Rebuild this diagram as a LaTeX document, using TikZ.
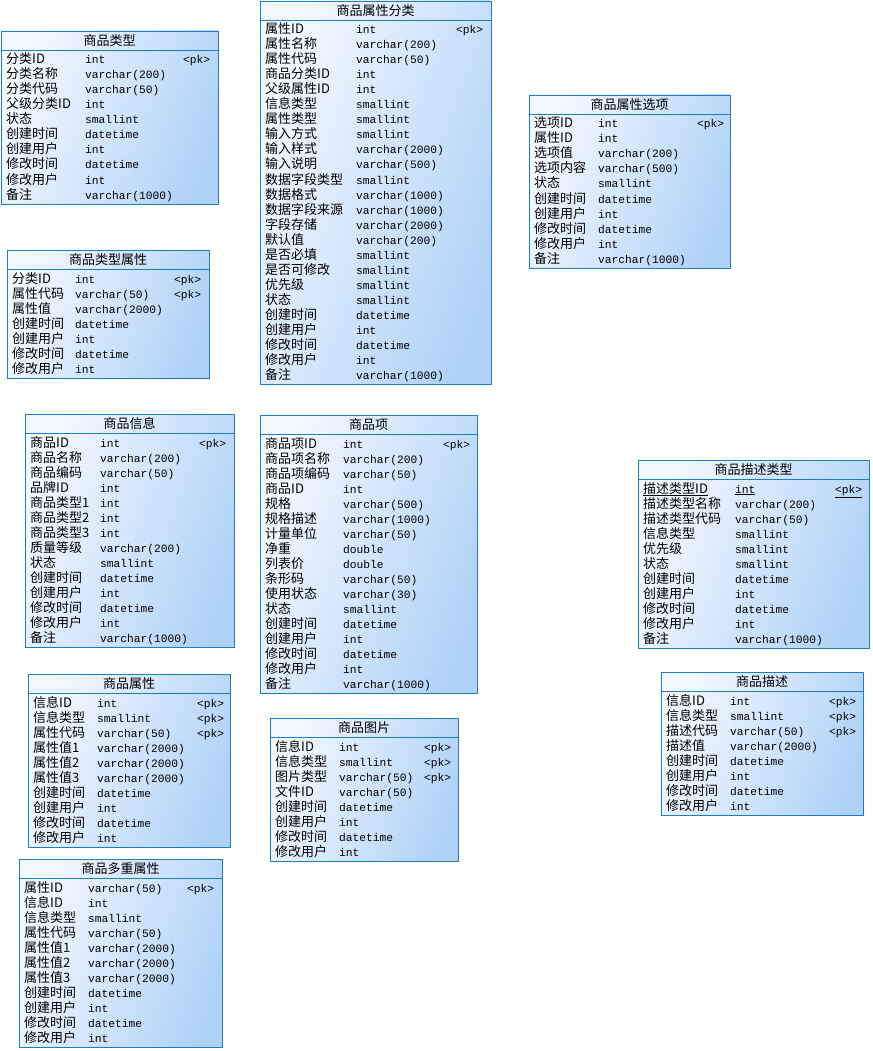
\documentclass[tikz,border=0pt]{standalone}
\usepackage{fontspec}
\setmainfont{Noto Sans CJK SC}
\setmonofont{Liberation Mono}
\usepackage{tikz}

\definecolor{tblborder}{RGB}{30,125,195}
\definecolor{tbllight}{RGB}{244,249,255}
\definecolor{tbldark}{RGB}{176,210,247}

\begin{document}
\begin{tikzpicture}[
    x=1pt, y=-1pt,
    tbl/.style={rectangle, draw=tblborder, line width=0.9pt, left color=tbllight, right color=tbldark, shading angle=70, anchor=north west, inner sep=0pt, outer sep=0pt},
    ttl/.style={anchor=base, inner sep=0pt, font=\fontsize{13}{15}\selectfont},
    fld/.style={anchor=base west, inner sep=0pt, font=\fontsize{13}{15}\selectfont},
    typ/.style={anchor=base west, inner sep=0pt, font=\ttfamily\fontsize{11.25}{15}\selectfont},
    sep/.style={tblborder, line width=0.9pt}
]

\useasboundingbox (0,0) rectangle (872,1051);

% -------- 商品类型 --------
\def\tx{1}   \def\ty{31}   \def\tw{217}
\node[tbl, minimum width=217pt, minimum height=173pt] (ptype) at (\tx,\ty) {};
\node[ttl] (ptype-t) at (\tx+\tw/2,\ty+14.5) {商品类型};
\draw[sep] ([yshift=-19pt]ptype.north west) -- ([yshift=-19pt]ptype.north east);
\foreach \fname/\ftype/\fkey [count=\i] in {分类ID/int/1, 分类名称/varchar(200)/0, 分类代码/varchar(50)/0,
    父级分类ID/int/0, 状态/smallint/0, 创建时间/datetime/0, 创建用户/int/0, 修改时间/datetime/0,
    修改用户/int/0, 备注/varchar(1000)/0} {
    \node[fld] (ptype-n\i) at (\tx+5,\ty+18+15*\i) {\fname};
    \node[typ] (ptype-y\i) at (\tx+84,\ty+18+15*\i) {\ftype};
    \ifnum\fkey>0 \node[typ] (ptype-k\i) at (\tx+182,\ty+18+15*\i) {<pk>};\fi
}

% -------- 商品类型属性 --------
\def\tx{7}   \def\ty{250}  \def\tw{202}
\node[tbl, minimum width=202pt, minimum height=128pt] (ptattr) at (\tx,\ty) {};
\node[ttl] (ptattr-t) at (\tx+\tw/2,\ty+14.5) {商品类型属性};
\draw[sep] ([yshift=-19pt]ptattr.north west) -- ([yshift=-19pt]ptattr.north east);
\foreach \fname/\ftype/\fkey [count=\i] in {分类ID/int/1, 属性代码/varchar(50)/1, 属性值/varchar(2000)/0,
    创建时间/datetime/0, 创建用户/int/0, 修改时间/datetime/0, 修改用户/int/0} {
    \node[fld] (ptattr-n\i) at (\tx+5,\ty+18+15*\i) {\fname};
    \node[typ] (ptattr-y\i) at (\tx+68,\ty+18+15*\i) {\ftype};
    \ifnum\fkey>0 \node[typ] (ptattr-k\i) at (\tx+167,\ty+18+15*\i) {<pk>};\fi
}

% -------- 商品属性分类 --------
\def\tx{260} \def\ty{1}    \def\tw{231}
\node[tbl, minimum width=231pt, minimum height=383pt] (attrcls) at (\tx,\ty) {};
\node[ttl] (attrcls-t) at (\tx+\tw/2,\ty+14.5) {商品属性分类};
\draw[sep] ([yshift=-19pt]attrcls.north west) -- ([yshift=-19pt]attrcls.north east);
\foreach \fname/\ftype/\fkey [count=\i] in {属性ID/int/1, 属性名称/varchar(200)/0, 属性代码/varchar(50)/0,
    商品分类ID/int/0, 父级属性ID/int/0, 信息类型/smallint/0, 属性类型/smallint/0, 输入方式/smallint/0,
    输入样式/varchar(2000)/0, 输入说明/varchar(500)/0, 数据字段类型/smallint/0, 数据格式/varchar(1000)/0,
    数据字段来源/varchar(1000)/0, 字段存储/varchar(2000)/0, 默认值/varchar(200)/0, 是否必填/smallint/0,
    是否可修改/smallint/0, 优先级/smallint/0, 状态/smallint/0, 创建时间/datetime/0, 创建用户/int/0,
    修改时间/datetime/0, 修改用户/int/0, 备注/varchar(1000)/0} {
    \node[fld] (attrcls-n\i) at (\tx+5,\ty+18+15*\i) {\fname};
    \node[typ] (attrcls-y\i) at (\tx+96,\ty+18+15*\i) {\ftype};
    \ifnum\fkey>0 \node[typ] (attrcls-k\i) at (\tx+196,\ty+18+15*\i) {<pk>};\fi
}

% -------- 商品属性选项 --------
\def\tx{529} \def\ty{95}   \def\tw{201}
\node[tbl, minimum width=201pt, minimum height=173pt] (attropt) at (\tx,\ty) {};
\node[ttl] (attropt-t) at (\tx+\tw/2,\ty+14.5) {商品属性选项};
\draw[sep] ([yshift=-19pt]attropt.north west) -- ([yshift=-19pt]attropt.north east);
\foreach \fname/\ftype/\fkey [count=\i] in {选项ID/int/1, 属性ID/int/0, 选项值/varchar(200)/0,
    选项内容/varchar(500)/0, 状态/smallint/0, 创建时间/datetime/0, 创建用户/int/0, 修改时间/datetime/0,
    修改用户/int/0, 备注/varchar(1000)/0} {
    \node[fld] (attropt-n\i) at (\tx+5,\ty+18+15*\i) {\fname};
    \node[typ] (attropt-y\i) at (\tx+69,\ty+18+15*\i) {\ftype};
    \ifnum\fkey>0 \node[typ] (attropt-k\i) at (\tx+168,\ty+18+15*\i) {<pk>};\fi
}

% -------- 商品信息 --------
\def\tx{25}  \def\ty{414}  \def\tw{209}
\node[tbl, minimum width=209pt, minimum height=233pt] (goods) at (\tx,\ty) {};
\node[ttl] (goods-t) at (\tx+\tw/2,\ty+14.5) {商品信息};
\draw[sep] ([yshift=-19pt]goods.north west) -- ([yshift=-19pt]goods.north east);
\foreach \fname/\ftype/\fkey [count=\i] in {商品ID/int/1, 商品名称/varchar(200)/0, 商品编码/varchar(50)/0,
    品牌ID/int/0, 商品类型1/int/0, 商品类型2/int/0, 商品类型3/int/0, 质量等级/varchar(200)/0,
    状态/smallint/0, 创建时间/datetime/0, 创建用户/int/0, 修改时间/datetime/0, 修改用户/int/0,
    备注/varchar(1000)/0} {
    \node[fld] (goods-n\i) at (\tx+5,\ty+18+15*\i) {\fname};
    \node[typ] (goods-y\i) at (\tx+75,\ty+18+15*\i) {\ftype};
    \ifnum\fkey>0 \node[typ] (goods-k\i) at (\tx+174,\ty+18+15*\i) {<pk>};\fi
}

% -------- 商品项 --------
\def\tx{260} \def\ty{415}  \def\tw{217}
\node[tbl, minimum width=217pt, minimum height=278pt] (item) at (\tx,\ty) {};
\node[ttl] (item-t) at (\tx+\tw/2,\ty+14.5) {商品项};
\draw[sep] ([yshift=-19pt]item.north west) -- ([yshift=-19pt]item.north east);
\foreach \fname/\ftype/\fkey [count=\i] in {商品项ID/int/1, 商品项名称/varchar(200)/0, 商品项编码/varchar(50)/0,
    商品ID/int/0, 规格/varchar(500)/0, 规格描述/varchar(1000)/0, 计量单位/varchar(50)/0, 净重/double/0,
    列表价/double/0, 条形码/varchar(50)/0, 使用状态/varchar(30)/0, 状态/smallint/0, 创建时间/datetime/0,
    创建用户/int/0, 修改时间/datetime/0, 修改用户/int/0, 备注/varchar(1000)/0} {
    \node[fld] (item-n\i) at (\tx+5,\ty+18+15*\i) {\fname};
    \node[typ] (item-y\i) at (\tx+83,\ty+18+15*\i) {\ftype};
    \ifnum\fkey>0 \node[typ] (item-k\i) at (\tx+183,\ty+18+15*\i) {<pk>};\fi
}

% -------- 商品描述类型 --------
\def\tx{638} \def\ty{460}  \def\tw{231}
\node[tbl, minimum width=231pt, minimum height=188pt] (desctype) at (\tx,\ty) {};
\node[ttl] (desctype-t) at (\tx+\tw/2,\ty+14.5) {商品描述类型};
\draw[sep] ([yshift=-19pt]desctype.north west) -- ([yshift=-19pt]desctype.north east);
\foreach \fname/\ftype/\fkey [count=\i] in {\underline{描述类型ID}/\underline{int}/2, 描述类型名称/varchar(200)/0,
    描述类型代码/varchar(50)/0, 信息类型/smallint/0, 优先级/smallint/0, 状态/smallint/0, 创建时间/datetime/0,
    创建用户/int/0, 修改时间/datetime/0, 修改用户/int/0, 备注/varchar(1000)/0} {
    \node[fld] (desctype-n\i) at (\tx+5,\ty+18+15*\i) {\fname};
    \node[typ] (desctype-y\i) at (\tx+97,\ty+18+15*\i) {\ftype};
    \ifnum\fkey>0 \node[typ] (desctype-k\i) at (\tx+197,\ty+18+15*\i) {\underline{<pk>}};\fi
}

% -------- 商品属性 --------
\def\tx{28}  \def\ty{674}  \def\tw{202}
\node[tbl, minimum width=202pt, minimum height=173pt] (gattr) at (\tx,\ty) {};
\node[ttl] (gattr-t) at (\tx+\tw/2,\ty+14.5) {商品属性};
\draw[sep] ([yshift=-19pt]gattr.north west) -- ([yshift=-19pt]gattr.north east);
\foreach \fname/\ftype/\fkey [count=\i] in {信息ID/int/1, 信息类型/smallint/1, 属性代码/varchar(50)/1,
    属性值1/varchar(2000)/0, 属性值2/varchar(2000)/0, 属性值3/varchar(2000)/0, 创建时间/datetime/0,
    创建用户/int/0, 修改时间/datetime/0, 修改用户/int/0} {
    \node[fld] (gattr-n\i) at (\tx+5,\ty+18+15*\i) {\fname};
    \node[typ] (gattr-y\i) at (\tx+69,\ty+18+15*\i) {\ftype};
    \ifnum\fkey>0 \node[typ] (gattr-k\i) at (\tx+169,\ty+18+15*\i) {<pk>};\fi
}

% -------- 商品图片 --------
\def\tx{270} \def\ty{718}  \def\tw{188}
\node[tbl, minimum width=188pt, minimum height=143pt] (gimg) at (\tx,\ty) {};
\node[ttl] (gimg-t) at (\tx+\tw/2,\ty+14.5) {商品图片};
\draw[sep] ([yshift=-19pt]gimg.north west) -- ([yshift=-19pt]gimg.north east);
\foreach \fname/\ftype/\fkey [count=\i] in {信息ID/int/1, 信息类型/smallint/1, 图片类型/varchar(50)/1,
    文件ID/varchar(50)/0, 创建时间/datetime/0, 创建用户/int/0, 修改时间/datetime/0, 修改用户/int/0} {
    \node[fld] (gimg-n\i) at (\tx+5,\ty+18+15*\i) {\fname};
    \node[typ] (gimg-y\i) at (\tx+69,\ty+18+15*\i) {\ftype};
    \ifnum\fkey>0 \node[typ] (gimg-k\i) at (\tx+154,\ty+18+15*\i) {<pk>};\fi
}

% -------- 商品描述 --------
\def\tx{661} \def\ty{672}  \def\tw{202}
\node[tbl, minimum width=202pt, minimum height=143pt] (gdesc) at (\tx,\ty) {};
\node[ttl] (gdesc-t) at (\tx+\tw/2,\ty+14.5) {商品描述};
\draw[sep] ([yshift=-19pt]gdesc.north west) -- ([yshift=-19pt]gdesc.north east);
\foreach \fname/\ftype/\fkey [count=\i] in {信息ID/int/1, 信息类型/smallint/1, 描述代码/varchar(50)/1,
    描述值/varchar(2000)/0, 创建时间/datetime/0, 创建用户/int/0, 修改时间/datetime/0, 修改用户/int/0} {
    \node[fld] (gdesc-n\i) at (\tx+5,\ty+18+15*\i) {\fname};
    \node[typ] (gdesc-y\i) at (\tx+69,\ty+18+15*\i) {\ftype};
    \ifnum\fkey>0 \node[typ] (gdesc-k\i) at (\tx+168,\ty+18+15*\i) {<pk>};\fi
}

% -------- 商品多重属性 --------
\def\tx{19}  \def\ty{859}  \def\tw{203}
\node[tbl, minimum width=203pt, minimum height=188pt] (mattr) at (\tx,\ty) {};
\node[ttl] (mattr-t) at (\tx+\tw/2,\ty+14.5) {商品多重属性};
\draw[sep] ([yshift=-19pt]mattr.north west) -- ([yshift=-19pt]mattr.north east);
\foreach \fname/\ftype/\fkey [count=\i] in {属性ID/varchar(50)/1, 信息ID/int/0, 信息类型/smallint/0,
    属性代码/varchar(50)/0, 属性值1/varchar(2000)/0, 属性值2/varchar(2000)/0, 属性值3/varchar(2000)/0,
    创建时间/datetime/0, 创建用户/int/0, 修改时间/datetime/0, 修改用户/int/0} {
    \node[fld] (mattr-n\i) at (\tx+5,\ty+18+15*\i) {\fname};
    \node[typ] (mattr-y\i) at (\tx+69,\ty+18+15*\i) {\ftype};
    \ifnum\fkey>0 \node[typ] (mattr-k\i) at (\tx+168,\ty+18+15*\i) {<pk>};\fi
}

\end{tikzpicture}
\end{document}
